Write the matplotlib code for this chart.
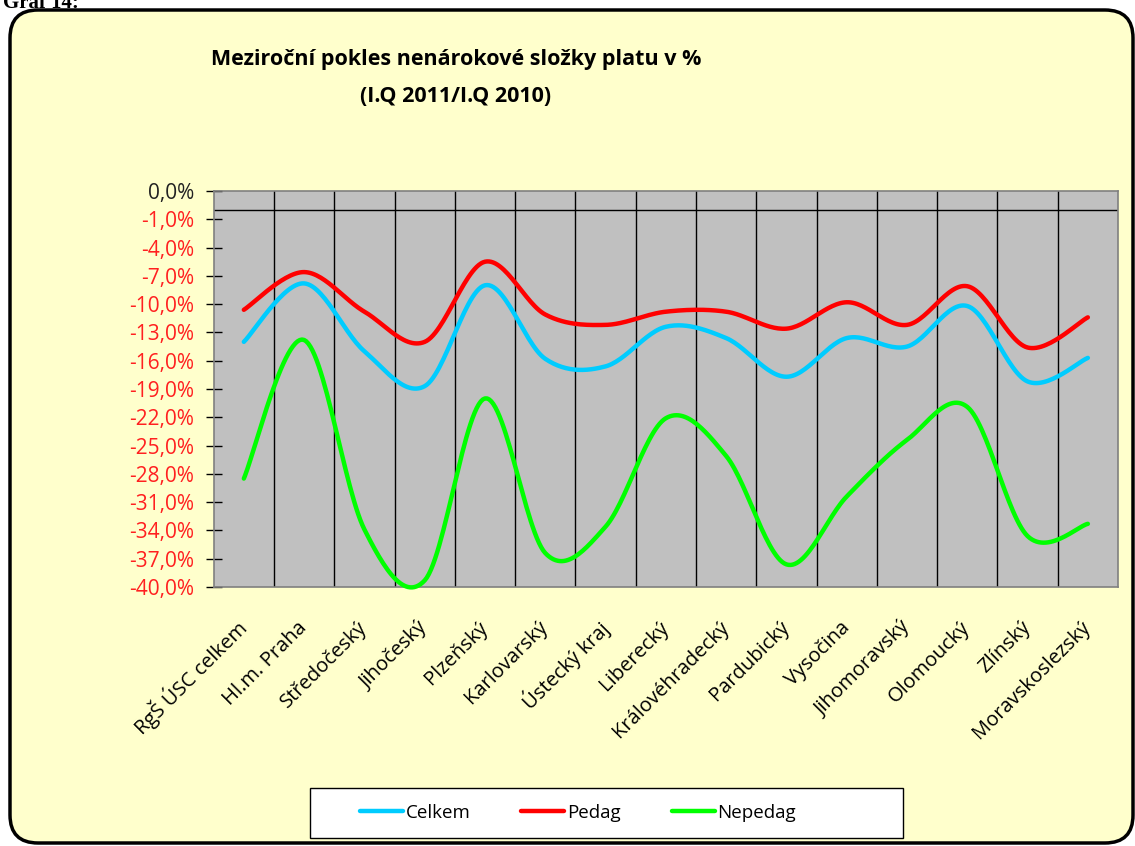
import numpy as np
import matplotlib.pyplot as plt
from matplotlib.patches import FancyBboxPatch, Rectangle
from matplotlib.transforms import IdentityTransform

regions = ["RgŠ ÚSC celkem", "Hl.m. Praha", "Středočeský", "Jihočeský", "Plzeňský",
           "Karlovarský", "Ústecký kraj", "Liberecký", "Královéhradecký", "Pardubický",
           "Vysočina", "Jihomoravský", "Olomoucký", "Zlínský", "Moravskoslezský"]

celkem = [-14.0, -7.8, -15.0, -18.7, -8.0, -15.8, -16.6, -12.4, -13.6, -17.7, -13.6, -14.5, -10.2, -18.2, -15.7]
pedag = [-10.6, -6.6, -10.8, -14.0, -5.5, -11.1, -12.2, -10.8, -10.8, -12.6, -9.8, -12.2, -8.1, -14.6, -11.4]
nepedag = [-28.5, -13.8, -33.9, -39.3, -20.0, -36.4, -33.6, -22.1, -26.1, -37.6, -30.4, -24.4, -20.9, -34.6, -33.3]

y_ticks = np.arange(-40, 3, 3)
y_labels = ["-40,0%", "-37,0%", "-34,0%", "-31,0%", "-28,0%", "-25,0%", "-22,0%", "-19,0%",
            "-16,0%", "-13,0%", "-10,0%", "-7,0%", "-4,0%", "-1,0%", "0,0%"]


def smooth(x, y, n=30):
    # Excel-like smoothed line (Catmull-Rom as bezier segments)
    p = np.column_stack([x, y]).astype(float)
    out = []
    for i in range(len(p) - 1):
        p0 = p[i - 1] if i > 0 else p[i]
        p1, p2 = p[i], p[i + 1]
        p3 = p[i + 2] if i + 2 < len(p) else p[i + 1]
        c1 = p1 + (p2 - p0) / 6
        c2 = p2 - (p3 - p1) / 6
        t = np.linspace(0, 1, n)[:, None]
        seg = (1 - t) ** 3 * p1 + 3 * (1 - t) ** 2 * t * c1 + 3 * (1 - t) * t ** 2 * c2 + t ** 3 * p2
        out.append(seg if i == 0 else seg[1:])
    out = np.vstack(out)
    return out[:, 0], out[:, 1]


plt.rcParams['font.family'] = ['Open Sans', 'DejaVu Sans']

W, H = 1135, 846
fig = plt.figure(figsize=(W / 100, H / 100), dpi=100)
fig.patch.set_facecolor('white')

# rounded chart frame
frame = FancyBboxPatch((10, 3), 1123, 833, boxstyle="round,pad=0,rounding_size=28",
                       transform=IdentityTransform(), facecolor='#FFFFCC', edgecolor='black',
                       linewidth=2.5, zorder=-5)
fig.patches.append(frame)

fig.text(0.003, 1 - 8 / H, "Graf 14:", family='Liberation Serif', fontweight='bold',
         fontsize=15, va='baseline', ha='left')

ax = fig.add_axes([213.7 / W, 1 - 587 / H, (1118 - 213.7) / W, (587 - 191) / H])
ax.set_zorder(2)
ax.set_facecolor('#C0C0C0')
for s in ax.spines.values():
    s.set_color('#808080')
    s.set_linewidth(1.2)

x = np.arange(len(regions))
ax.set_xlim(-0.5, len(regions) - 0.5)
ax.set_ylim(-40, 2)

for b in np.arange(0.5, len(regions) - 0.5, 1):
    ax.axvline(b, color='black', lw=1, zorder=1)
ax.axhline(0, color='black', lw=1, zorder=1)

lines = []
for vals, col, name in [(celkem, '#00CCFF', 'Celkem'), (pedag, '#FF0000', 'Pedag'),
                        (nepedag, '#00FF00', 'Nepedag')]:
    sx, sy = smooth(x, vals)
    ln, = ax.plot(sx, sy, color=col, lw=3.2, label=name, solid_capstyle='round', zorder=3,
                  clip_on=False)
    lines.append(ln)

ax.set_yticks(y_ticks)
ax.set_yticklabels(y_labels, fontsize=15)
for lab in ax.get_yticklabels():
    lab.set_color('#FF2020')
ax.get_yticklabels()[-1].set_color('#222222')
ax.tick_params(axis='y', direction='inout', length=12, width=1, color='black', pad=8)

ax.set_xticks(x)
ax.set_xticklabels(regions, rotation=45, ha='right', va='center', rotation_mode='anchor',
                   fontsize=14.5)
ax.tick_params(axis='x', length=0, pad=27)

fig.text(456 / W, 1 - 60 / H, "Meziroční pokles nenárokové složky platu v %",
         fontsize=15.5, fontweight='bold', ha='center', va='center')
fig.text(456 / W, 1 - 96 / H, "(I.Q 2011/I.Q 2010)",
         fontsize=15.5, fontweight='bold', ha='center', va='center')

# legend box
fig.patches.append(Rectangle((310 / W, 1 - 838 / H), (903 - 310) / W, 50 / H,
                             transform=fig.transFigure, facecolor='white', edgecolor='black',
                             linewidth=1.0, zorder=4))
leg = fig.legend(handles=lines, loc='center', bbox_to_anchor=(578 / W, 1 - 813 / H), ncol=3,
                 fontsize=13.5, frameon=False, handlelength=2.3, handletextpad=0.15,
                 columnspacing=2.7, borderaxespad=0)
leg.set_zorder(5)

fig.savefig('out.png', dpi=100)
